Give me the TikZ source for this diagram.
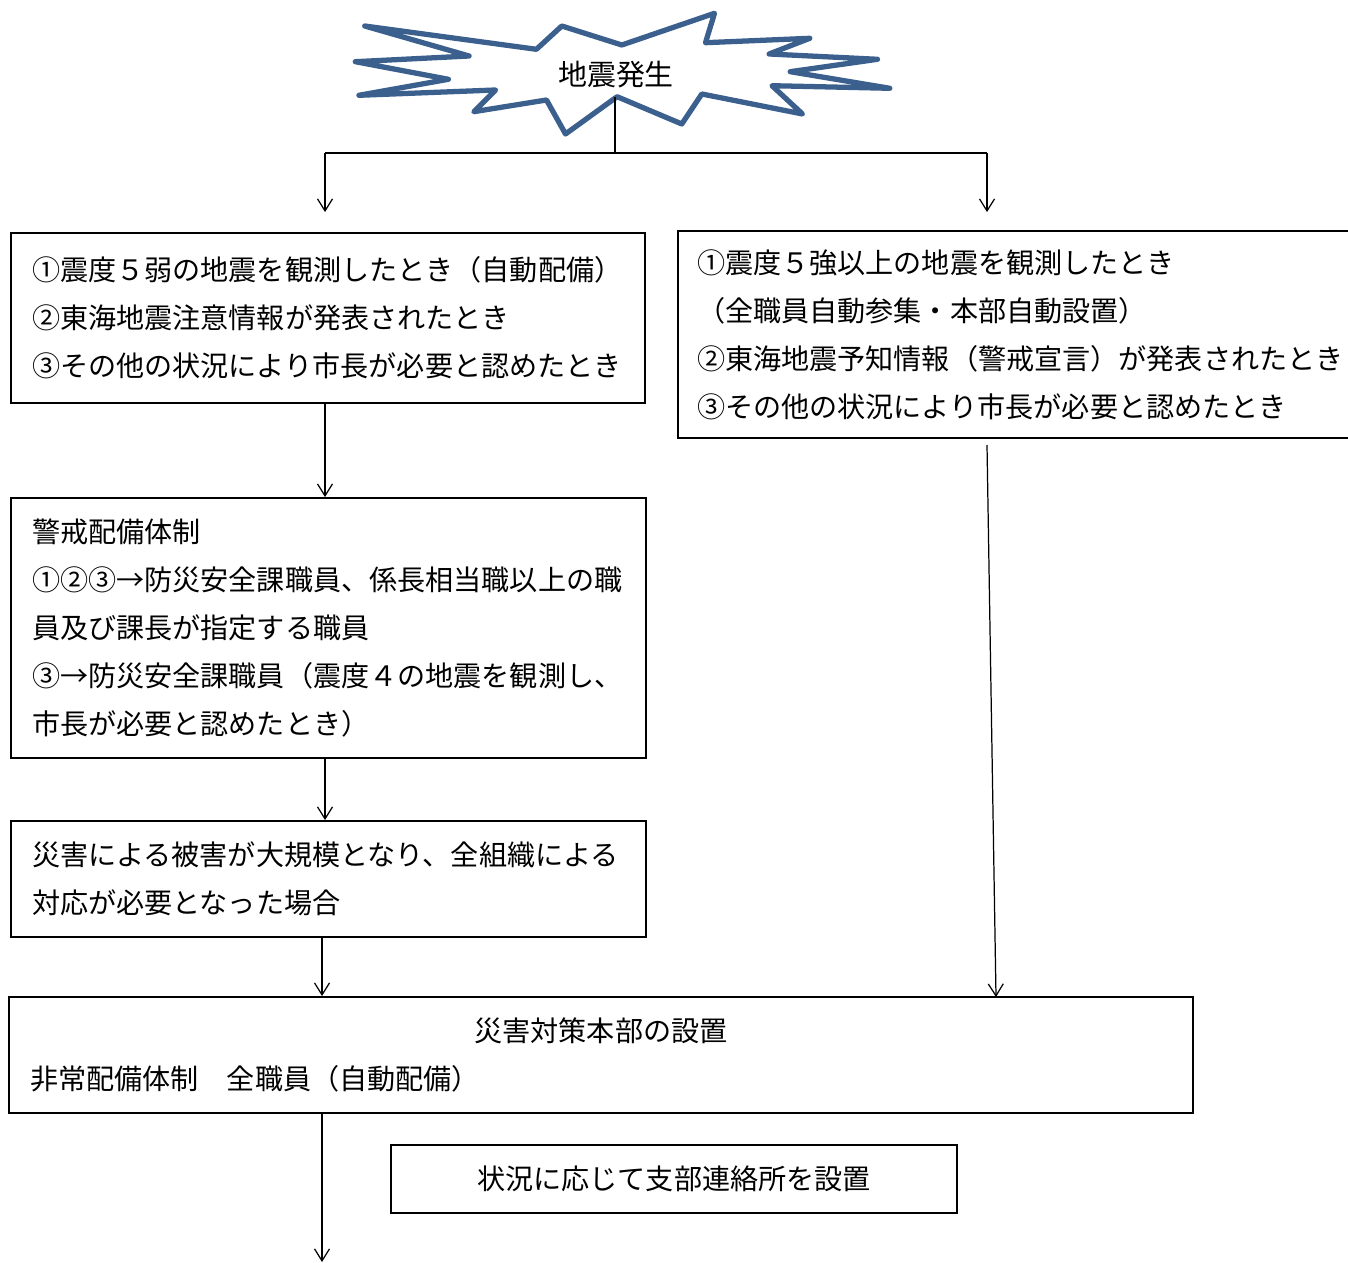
\documentclass[tikz,border=0pt]{standalone}
\usepackage{fontspec}
\setmainfont{Noto Sans CJK JP}
\usetikzlibrary{arrows.meta}
\definecolor{quakeblue}{RGB}{59,96,142}

\begin{document}
\begin{tikzpicture}[x=0.02cm, y=-0.02cm,
    >={Straight Barb[length=0.24cm,width=0.3cm]},
    flow/.style={black, line width=0.7pt, ->},
    infobox/.style={draw, line width=1.1pt, align=left, inner ysep=0pt,
      font=\fontsize{16}{27.3}\selectfont}]
  \useasboundingbox (0,0) rectangle (1348,1263);
  \draw[quakeblue, line width=3pt, line join=round, fill=white]
    (364.7,26) -- (536.4,49.3) -- (561.8,26) -- (621.8,45) -- (714.5,13.3) -- (705.5,42.7)
    -- (809.8,38.3) -- (769.1,54) -- (877.5,59.3) -- (790.2,71.7) -- (889.8,88.3) -- (772,85.7)
    -- (802.5,114) -- (701.8,94) -- (681.8,124) -- (617.1,96.7) -- (565.5,134) -- (546.5,100)
    -- (473.8,111.7) -- (495.6,90) -- (358.9,95.3) -- (448.4,79.3) -- (355.3,61.7) -- (469.1,56) -- cycle;
  \node[font=\fontsize{16.5}{20}\selectfont] (quake) at (616,75) {地震発生};

  \node[infobox, inner xsep=0.42cm, text width=11.84cm, minimum height=3.4cm] (weak) at (328,318)
    {①震度５弱の地震を観測したとき（自動配備）\\②東海地震注意情報が発表されたとき\\③その他の状況により市長が必要と認めたとき};
  \node[infobox, inner xsep=0.38cm, text width=12.7cm, minimum height=4.14cm] (strong) at (1014.5,334.5)
    {①震度５強以上の地震を観測したとき\\（全職員自動参集・本部自動設置）\\②東海地震予知情報（警戒宣言）が発表されたとき\\③その他の状況により市長が必要と認めたとき};
  \node[infobox, inner xsep=0.42cm, text width=11.86cm, minimum height=5.2cm] (alert) at (328.5,628)
    {警戒配備体制\\①②③→防災安全課職員、係長相当職以上の職\\員及び課長が指定する職員\\③→防災安全課職員（震度４の地震を観測し、\\市長が必要と認めたとき）};
  \node[infobox, inner xsep=0.42cm, text width=11.86cm, minimum height=2.32cm] (damage) at (328.5,879)
    {災害による被害が大規模となり、全組織による\\対応が必要となった場合};
  \node[infobox, inner xsep=0.42cm, text width=22.84cm, minimum height=2.32cm] (hq) at (601,1055)
    {\makebox[22.84cm]{災害対策本部の設置}\\非常配備体制　全職員（自動配備）};
  \node[infobox, align=center, minimum width=11.32cm, minimum height=1.36cm] (branch) at (674,1179)
    {状況に応じて支部連絡所を設置};

  \coordinate (starbot) at (615,97);
  \coordinate (split) at (615,153);
  \coordinate (splitL) at (325,153);
  \coordinate (splitR) at (987,153);
  \coordinate (rtop) at (987,445);
  \coordinate (rdrop) at (996,997);
  \coordinate (exit) at (322,1262);

  \draw[line width=0.7pt] (starbot) -- (split);
  \draw[line width=0.7pt] (splitL) -- (splitR);
  \draw[flow, shorten >=0.4cm] (splitL) -- (splitL |- weak.north);
  \draw[flow, shorten >=0.36cm] (splitR) -- (splitR |- strong.north);
  \draw[flow] ([xshift=-0.06cm]weak.south) -- ([xshift=-0.06cm]weak.south |- alert.north);
  \draw[flow] ([xshift=-0.07cm]alert.south) -- ([xshift=-0.07cm]alert.south |- damage.north);
  \draw[flow] ([xshift=-0.13cm]damage.south) -- ([xshift=-0.13cm]damage.south |- hq.north);
  \draw[flow] (rtop) -- (rdrop);
  \draw[flow] (hq.south -| exit) -- (exit);
\end{tikzpicture}
\end{document}
